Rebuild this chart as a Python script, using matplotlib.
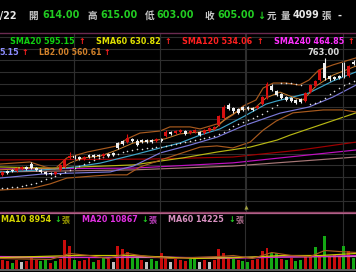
import matplotlib
matplotlib.use('Agg')
import matplotlib.pyplot as plt
import numpy as np

plt.rcParams['font.family'] = ['DejaVu Sans', 'Noto Sans CJK TC']

# ---------------- data ----------------
opens = [362, 375, 379, 375, 382, 389, 399, 385, 379, 372,
         368, 365, 379, 389, 420, 426, 423, 416, 430, 430,
         430, 426, 433, 437, 471, 478, 474, 485, 478, 481,
         481, 481, 478, 485, 495, 509, 505, 509, 512, 505,
         509, 509, 505, 512, 519, 532, 556, 601, 591, 587,
         594, 594, 591, 591, 604, 625, 666, 649, 639, 628,
         625, 618, 621, 615, 645, 666, 686, 745, 700, 697,
         700, 745, 700, 748]
closes = [372, 368, 375, 385, 389, 382, 385, 379, 372, 365,
          365, 372, 396, 413, 426, 420, 416, 423, 423, 423,
          426, 433, 426, 430, 454, 468, 488, 478, 464, 474,
          474, 474, 485, 478, 509, 502, 512, 515, 502, 512,
          515, 498, 515, 522, 526, 563, 594, 587, 580, 574,
          584, 587, 584, 597, 628, 673, 652, 635, 625, 618,
          615, 608, 611, 642, 669, 683, 721, 693, 690, 690,
          693, 697, 734, 741]
highs = [375, 379, 382, 389, 392, 392, 406, 389, 382, 375,
         372, 375, 399, 420, 440, 430, 426, 426, 433, 433,
         433, 437, 437, 440, 474, 481, 502, 488, 485, 485,
         485, 485, 488, 488, 515, 512, 515, 519, 515, 515,
         519, 512, 519, 526, 529, 567, 601, 608, 594, 591,
         597, 597, 594, 601, 632, 680, 673, 652, 642, 632,
         628, 621, 625, 645, 673, 686, 724, 763, 703, 700,
         703, 748, 738, 755]
lows = [358, 365, 372, 372, 379, 379, 382, 375, 368, 362,
        362, 362, 375, 385, 416, 416, 413, 413, 420, 420,
        423, 423, 423, 426, 450, 464, 471, 474, 461, 471,
        471, 471, 474, 474, 491, 498, 502, 505, 498, 502,
        505, 495, 502, 509, 515, 529, 553, 584, 574, 570,
        580, 584, 580, 587, 601, 621, 649, 632, 621, 615,
        611, 604, 608, 611, 642, 662, 683, 686, 683, 686,
        690, 693, 697, 738]
sar = [317, 317, 320, 320, 324, 327, 331, 334, 341, 348,
       351, 358, 365, 372, 379, 385, 392, 399, 406, 413,
       420, 423, 426, 430, 433, 440, 444, 447, 450, 450,
       454, 454, 457, 457, 461, 464, 468, 471, 474, 478,
       481, 485, 488, 491, 495, 502, 509, 519, 529, 536,
       543, 550, 556, 563, 570, 580, 591, 601, 676, 676,
       676, 673, 669, np.nan, 604, 608, 615, 625, 639, 649,
       659, 669, 676, 683]
volumes = [9000, 8000, 6000, 9000, 7000, 8000, 12000, 9000, 8000, 10000,
           6000, 8000, 10000, 29000, 23000, 9000, 8000, 9000, 11000, 7000,
           9000, 12000, 10000, 7000, 23000, 20000, 17000, 12000, 13000, 9000,
           7000, 10000, 8000, 16000, 12000, 7000, 10000, 9000, 8000, 10000,
           11000, 7000, 9000, 7000, 9000, 20000, 16000, 11000, 10000, 9000,
           8000, 7000, 9000, 10000, 18000, 21000, 16000, 16000, 10000, 9000,
           11000, 8000, 9000, 13000, 14000, 22000, 14000, 33000, 12000, 14000,
           13000, 23000, 18000, 11000]
vol_dir = list("rrgrwrrrgg" "rgrrrgrrrg" "rgrwrrrggr" "wggrrwrrrg"
               "gwrwrrrrgr" "ggrrrrggrg" "rggrrgrgrr" "rgrg")

# moving-average / band lines (day index, price)
ub_x = [-0.5, 5.7, 8.9, 10.9, 13.4, 17.6, 23.8, 25.9, 28.6, 32.8, 34.8, 39, 41.1, 45.2,
        47.9, 50, 52.7, 54.2, 56.3, 59, 61.7, 63.7, 65.8, 68.7, 72.1, 73.5]
ub_y = [399, 406, 389, 382, 420, 440, 461, 485, 505, 512, 526, 526, 519, 539,
        567, 597, 618, 659, 676, 676, 669, 686, 721, 738, 755, 762]
lb_x = [-0.5, 6.4, 9.9, 13.4, 18.8, 22.4, 25.9, 28.6, 34.2, 41.1, 44.6, 47.9, 51.5,
        54.2, 56.9, 60.4, 66.7, 70.8, 73.5]
lb_y = [310, 317, 331, 351, 358, 362, 362, 389, 420, 457, 461, 454, 474,
        515, 546, 574, 584, 584, 577]
ma5_x = [-0.5, 5.7, 12, 14.1, 16.8, 20.3, 23.8, 27.2, 30.7, 33.8, 36.9, 41.1, 44.2,
         46.5, 49.4, 52.5, 54.8, 57.7, 60.8, 62.5, 65.2, 68.7, 73.5]
ma5_y = [379, 385, 382, 403, 420, 426, 447, 471, 478, 485, 502, 509, 519,
         556, 584, 591, 625, 645, 625, 618, 666, 703, 734]
ma10_x = [-0.5, 8.4, 13.4, 20.3, 27.2, 32.8, 36.9, 41.1, 45.2, 50, 54.8, 56.9, 63.7, 68.7, 73.5]
ma10_y = [372, 379, 385, 402, 430, 454, 471, 498, 519, 560, 604, 614, 642, 683, 714]
ma20_x = [-0.5, 8.4, 22.4, 27.2, 32.8, 39, 44.6, 50, 57.7, 63.7, 68.7, 73.5]
ma20_y = [351, 365, 372, 392, 437, 464, 491, 529, 573, 594, 628, 669]
sma60_x = [-0.5, 9.9, 27.2, 37.5, 44.6, 51.5, 57.1, 59.8, 73.5]
sma60_y = [389, 385, 396, 420, 440, 457, 481, 498, 574]
sma120_x = [-0.5, 30.7, 47.9, 61.9, 73.5]
sma120_y = [413, 416, 423, 447, 474]
sma240_x = [-0.5, 27.2, 47.9, 73.5]
sma240_y = [382, 385, 403, 447]
sma_long_x = [-0.5, 27.2, 47.9, 73.5]
sma_long_y = [372, 379, 392, 423]

vma5_x = [-0.5, 10, 14, 18, 22, 26, 30, 35, 45, 48, 52, 56, 60, 64, 67, 70, 73.5]
vma5_y = [10000, 9000, 15000, 13000, 10000, 15000, 12000, 10000, 12000, 13000, 10000,
          16000, 13000, 12000, 18000, 17000, 16000]
vma10_x = [-0.5, 15, 27, 40, 50, 58, 66, 73.5]
vma10_y = [11000, 13000, 13000, 10000, 11000, 13000, 13000, 15000]
vma20_x = [-0.5, 20, 30, 45, 55, 65, 73.5]
vma20_y = [12000, 11000, 12000, 10000, 11000, 12000, 13000]
vma60_x = [-0.5, 40, 73.5]
vma60_y = [11000, 11000, 12000]

month_lines = [14.9, 32.8, 50.5, 70.8]

# ---------------- figure ----------------
W, H = 356, 272
fig = plt.figure(figsize=(W / 100, H / 100), dpi=100, facecolor='black')

def frac(y0, y1):
    return [0, 1 - y1 / H, 1, (y1 - y0) / H]

n = len(closes)
x = np.arange(n)

ax = fig.add_axes(frac(33, 211))
ax.set_facecolor('black')
ax.set_xlim(-0.5, 73.5)
ax.set_ylim(238.4, 847.1)
ax.axis('off')
for v in range(274, 847, 40):
    ax.axhline(v, color='#2e2e2e', lw=0.8, zorder=0)
for m in month_lines:
    ax.axvline(m, color='#2e2e2e', lw=0.8, zorder=0)

lw = 0.85
ax.plot(sma_long_x, sma_long_y, color='#a87878', lw=lw, zorder=1)
ax.plot(sma240_x, sma240_y, color='#c010c0', lw=lw, zorder=1)
ax.plot(sma120_x, sma120_y, color='#a00000', lw=lw, zorder=1)
ax.plot(sma60_x, sma60_y, color='#b8b814', lw=lw, zorder=1)
ax.plot(lb_x, lb_y, color='#a85a1e', lw=lw, zorder=1)
ax.plot(ub_x, ub_y, color='#a85a1e', lw=lw, zorder=1)
ax.plot(ma20_x, ma20_y, color='#7a78d8', lw=lw, zorder=1)
ax.plot(ma10_x, ma10_y, color='#3ea4c8', lw=lw, zorder=1)
ax.plot(ma5_x, ma5_y, color='#c88030', lw=0.7, zorder=1)
ax.scatter(x, sar, s=1.3, color='#e0e0e0', zorder=2, linewidths=0)

o = np.array(opens); c = np.array(closes)
up = c >= o
cols = np.where(up, '#d81010', '#f0f0f0')
ax.vlines(x, lows, highs, colors=cols, lw=0.8, zorder=3)
body = np.maximum(np.abs(c - o), 2)
ax.bar(x, body, bottom=np.minimum(o, c), width=0.62, color=cols, zorder=4, linewidth=0)

imax = int(np.argmax(highs))
ax.text(imax - 0.3, max(highs) + 18, f"{max(highs):.2f}", color='#d8d8d8',
        fontsize=6, fontweight='bold', ha='center', va='center')

# volume panel
axv = fig.add_axes(frac(213, 268.5))
axv.set_facecolor('black')
axv.set_xlim(-0.5, 73.5)
axv.set_ylim(0, 55500)
axv.axis('off')
for m in month_lines:
    axv.axvline(m, color='#2e2e2e', lw=0.8, zorder=0)
cmap = {'r': '#c80c0c', 'g': '#14a814', 'w': '#c0c0c0'}
axv.bar(x, volumes, width=0.62, color=[cmap[d] for d in vol_dir], linewidth=0, zorder=2)
axv.plot(vma60_x, vma60_y, color='#d080b0', lw=lw, zorder=3)
axv.plot(vma20_x, vma20_y, color='#d020d0', lw=lw, zorder=3)
axv.plot(vma10_x, vma10_y, color='#c8c800', lw=lw, zorder=3)
axv.plot(vma5_x, vma5_y, color='#a85a1e', lw=lw, zorder=3)

# overlay for header texts and separators
ov = fig.add_axes([0, 0, 1, 1])
ov.set_xlim(0, W); ov.set_ylim(H, 0)
ov.axis('off'); ov.set_facecolor('none')
ov.plot([0, W], [32.5, 32.5], color='#6a2a50', lw=1.0)
ov.plot([0, W], [211.5, 211.5], color='#8a4060', lw=1.0)
ov.plot([0, W], [212.7, 212.7], color='#b06088', lw=0.9)
ov.plot([0, W], [269.8, 269.8], color='#606060', lw=1.4)
for px in [74, 160, 245.5, 343]:
    ov.plot([px, px], [33, 211], color='#2e2e2e', lw=0.8, zorder=0)
ov.plot([245.5], [207], marker='^', ms=3, color='#a0a040', mew=0)

def t(xp, yp, s, col, fs):
    ov.text(xp, yp, s, color=col, fontsize=fs, fontweight='bold', ha='left', va='center')

G = '#22cc22'; GR = '#c8c8c8'
y1 = 15.5
t(-6, y1, "9/22", '#e8e8e8', 6.9)
t(28, y1, "開", GR, 6.9)
t(42, y1, "614.00", G, 6.9)
t(87, y1, "高", GR, 6.9)
t(100, y1, "615.00", G, 6.9)
t(145, y1, "低", GR, 6.9)
t(156, y1, "603.00", G, 6.9)
t(204, y1, "收", GR, 6.9)
t(217, y1, "605.00", G, 6.9)
t(257, y1, "↓", G, 6.9)
t(267, y1, "元", GR, 6.9)
t(281, y1, "量", GR, 6.9)
t(293, y1, "4099", '#e8e8e8', 6.9)
t(321, y1, "張", GR, 6.9)
t(338, y1, "-", '#e8e8e8', 6.9)

R = '#ff2020'
y2 = 41
t(10, y2, "SMA20 595.15", '#10d010', 5.8); t(78, y2, "↑", R, 5.8)
t(96, y2, "SMA60 630.82", '#e0e000', 5.8); t(164, y2, "↑", R, 5.8)
t(182, y2, "SMA120 534.06", '#ff2020', 5.8); t(256, y2, "↑", R, 5.8)
t(274, y2, "SMA240 464.85", '#ff30ff', 5.8); t(347, y2, "↑", R, 5.8)
y3 = 52.5
t(-1, y3, "5.15", '#8c8cff', 5.8); t(21, y3, "↑", R, 5.8)
t(39, y3, "LB2.00 560.61", '#d0802a', 5.6); t(103, y3, "↑", R, 5.8)

y4 = 220
t(1, y4, "MA10 8954", '#d4d400', 5.8); t(54, y4, "↓", G, 5.8); t(62, y4, "張", '#a0a000', 5.8)
t(82, y4, "MA20 10867", '#e030e0', 5.8); t(141, y4, "↓", G, 5.8); t(149, y4, "張", '#c040c0', 5.8)
t(168, y4, "MA60 14225", '#d890c0', 5.8); t(228, y4, "↓", G, 5.8); t(236, y4, "張", '#b07090', 5.8)

fig.savefig('out.png', dpi=100, facecolor='black')
